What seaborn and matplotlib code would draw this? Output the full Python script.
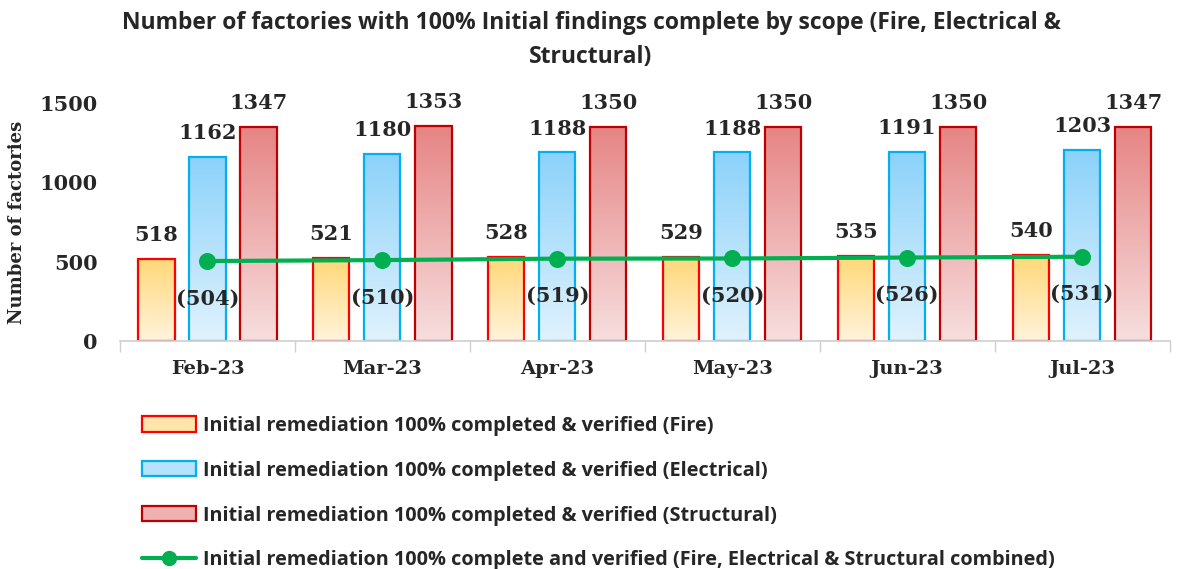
import numpy as np
import pandas as pd
import matplotlib.pyplot as plt
import seaborn as sns
from matplotlib.patches import Patch
from matplotlib.lines import Line2D
from matplotlib.colors import LinearSegmentedColormap

months = ["Feb-23", "Mar-23", "Apr-23", "May-23", "Jun-23", "Jul-23"]
scopes = ["Fire", "Electrical", "Structural"]
fire = [518, 521, 528, 529, 535, 540]
electrical = [1162, 1180, 1188, 1188, 1191, 1203]
structural = [1347, 1353, 1350, 1350, 1350, 1347]
combined = [504, 510, 519, 520, 526, 531]

legend_labels = [
    "Initial remediation 100% completed & verified (Fire)",
    "Initial remediation 100% completed & verified (Electrical)",
    "Initial remediation 100% completed & verified (Structural)",
    "Initial remediation 100% complete and verified (Fire, Electrical & Structural combined)",
]

# (top colour, bottom colour, edge colour) per scope
styles = [
    ("#FFD878", "#FFF3DC", "#FF0000"),
    ("#8CD2FA", "#E0F2FD", "#00B0F0"),
    ("#E68585", "#F7DEDE", "#C00000"),
]
green = "#00B050"

sns.set_theme(style="white")
plt.rcParams["font.family"] = ["DejaVu Serif"]
serif = dict(family="DejaVu Serif", fontweight="bold")
sans = dict(family="Open Sans", fontweight="bold")

fig = plt.figure(figsize=(11.82, 5.69), dpi=100)
ax = fig.add_axes([0.1015, 0.4007, 0.888, 0.4183])

df = pd.DataFrame({
    "month": months * 3,
    "scope": np.repeat(scopes, len(months)),
    "count": fire + electrical + structural,
})
sns.barplot(data=df, x="month", y="count", hue="scope", order=months,
            hue_order=scopes, palette=[s[0] for s in styles], width=0.875,
            gap=0.29, linewidth=1.6, legend=False, ax=ax)

# gradient fills
for container, (top, bottom, edge) in zip(ax.containers, styles):
    cmap = LinearSegmentedColormap.from_list("g", [bottom, top])
    for bar in container:
        bar.set_facecolor("none")
        bar.set_edgecolor(edge)
        bar.set_zorder(2)
        x0, w, h = bar.get_x(), bar.get_width(), bar.get_height()
        ax.imshow(np.linspace(0, 1, 100).reshape(-1, 1), cmap=cmap,
                  extent=[x0, x0 + w, 0, h], origin="lower", aspect="auto",
                  zorder=1.5)
    ax.bar_label(container, padding=10, fontsize=15, **serif)

sns.pointplot(x=months, y=combined, order=months, color=green, markers="o",
              markersize=10, linewidth=3, errorbar=None, ax=ax)
for i, v in enumerate(combined):
    ax.annotate(f"({v})", (i, v), xytext=(0, -27), textcoords="offset points",
                ha="center", va="center", fontsize=15, **serif)

ax.set_xlim(-0.5, 5.5)
ax.set_ylim(0, 1500)
ax.set_yticks([0, 500, 1000, 1500])
ax.set_xlabel("")
ax.set_ylabel("Number of factories", fontsize=13, labelpad=10, **serif)
for lab in ax.get_xticklabels():
    lab.set_fontsize(14)
    lab.set_fontweight("bold")
    lab.set_family("DejaVu Serif")
for lab in ax.get_yticklabels():
    lab.set_fontsize(15)
    lab.set_fontweight("bold")
    lab.set_family("DejaVu Serif")
ax.set_xticks(np.arange(-0.5, 6, 1), minor=True)
ax.tick_params(axis="x", which="major", length=0, pad=14)
ax.tick_params(axis="x", which="minor", length=8, color="#D0D0D0", bottom=True)
ax.tick_params(axis="y", length=0, pad=16)
sns.despine(ax=ax, left=True)
ax.spines["bottom"].set_color("#D0D0D0")

fig.text(0.5, 0.98,
         "Number of factories with 100% Initial findings complete by scope (Fire, Electrical &\nStructural)",
         ha="center", va="top", fontsize=16.5, linespacing=1.55, **sans)

handles = [Patch(facecolor=LinearSegmentedColormap.from_list("g", [b, t])(0.5),
                 edgecolor=e, linewidth=1.6) for t, b, e in styles]
handles.append(Line2D([], [], color=green, lw=3, marker="o", markersize=10))
fig.legend(handles, legend_labels, loc="upper left",
           bbox_to_anchor=(124 / 1182, 1 - 398 / 569), frameon=False,
           prop=dict(family="Open Sans", weight="bold", size=14.3),
           handlelength=2.7, handleheight=0.8, labelspacing=1.25,
           handletextpad=0.4)

fig.savefig("out.png", dpi=100)
